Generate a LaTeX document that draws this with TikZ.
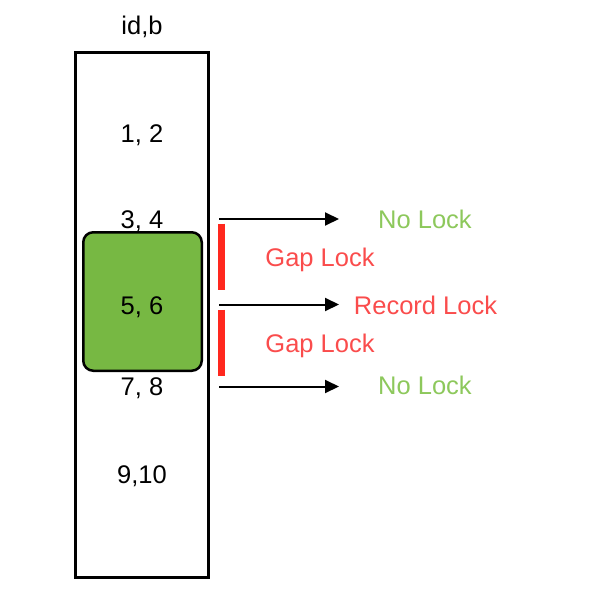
\documentclass[tikz,border=0pt]{standalone}
\usepackage{fontspec}
\setmainfont{Liberation Sans}
\usepackage{tikz}
\usetikzlibrary{arrows.meta}
\definecolor{recgreen}{RGB}{119,184,67}
\definecolor{lockgreen}{RGB}{141,200,92}
\definecolor{lockred}{RGB}{250,76,76}
\definecolor{barred}{RGB}{255,40,30}

\begin{document}
\begin{tikzpicture}
[x=1pt,y=-1pt]
\tikzset{txt/.style={anchor=base,inner sep=0pt,font=\fontsize{25.5}{30}\selectfont}}
\tikzset{colbox/.style={draw,line width=3pt,minimum width=133.5pt,minimum height=525pt,inner sep=0pt}}
\tikzset{recbox/.style={draw,fill=recgreen,line width=2.5pt,rounded corners=10pt,minimum width=118.5pt,minimum height=138.5pt,inner sep=0pt}}
\tikzset{gapbar/.style={draw=barred,line width=7pt}}
\tikzset{arr/.style={line width=2pt,-{Triangle[length=14pt,width=13pt]}}}
\useasboundingbox (0,0) rectangle (590,602);
\node [colbox] (col) at (141.75,315) {};
\node [recbox] (rec) at (142.5,301.5) {};
\node [txt] (head) at (142,35) {id,b};
\node [txt] (r1) at (142,142) {1, 2};
\node [txt] (r2) at (142,228) {3, 4};
\node [txt] (r3) at (142,314) {5, 6};
\node [txt] (r4) at (142,395) {7, 8};
\node [txt] (r5) at (142,483) {9,10};
\node [txt,text=lockgreen] (l1) at (425,228) {No Lock};
\node [txt,text=lockred] (l2) at (320,266) {Gap Lock};
\node [txt,text=lockred] (l3) at (425.5,314) {Record Lock};
\node [txt,text=lockred] (l4) at (320,352) {Gap Lock};
\node [txt,text=lockgreen] (l5) at (425,394) {No Lock};
\coordinate (s1) at (219,219);
\coordinate (e1) at (339,219);
\coordinate (s2) at (219,304.5);
\coordinate (e2) at (339,304.5);
\coordinate (s3) at (219,386.5);
\coordinate (e3) at (339,386.5);
\coordinate (g1) at (221.5,223.5);
\coordinate (h1) at (221.5,289.5);
\coordinate (g2) at (221.5,309.5);
\coordinate (h2) at (221.5,376);

\foreach \from/\to in {s1/e1,s2/e2,s3/e3}
	\draw [arr] (\from) -- (\to);
\foreach \from/\to in {g1/h1,g2/h2}
	\draw [gapbar] (\from) -- (\to);
\end{tikzpicture}
\end{document}
